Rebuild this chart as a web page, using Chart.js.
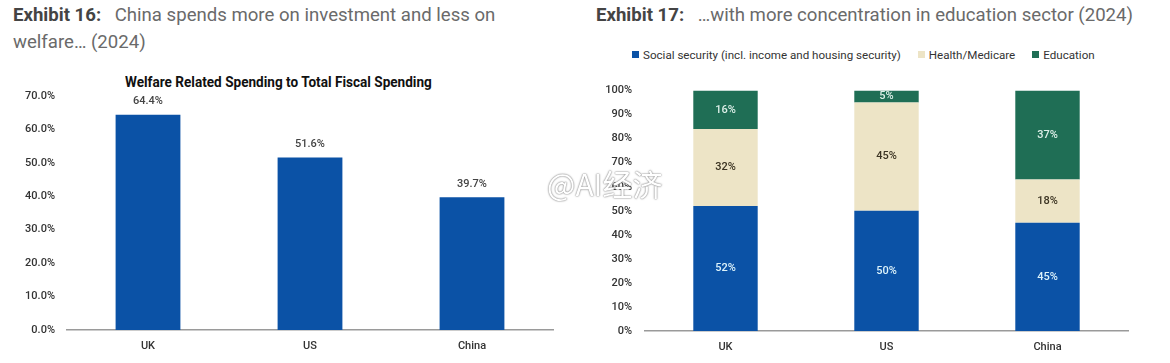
<!DOCTYPE html>
<html>
<head>
<meta charset="utf-8">
<script src="https://cdn.jsdelivr.net/npm/chart.js@4.4.1/dist/chart.umd.min.js"></script>
<style>
  body { margin: 0; width: 1170px; height: 363px; background: #fff; position: relative; overflow: hidden; font-family: Roboto, sans-serif; }
  .head { position: absolute; font-size: 18.6px; line-height: 27px; color: #6a6a6a; }
  .head b { color: #444; font-weight: 700; margin-right: 9px; }
  #title1 { position: absolute; left: 125px; top: 74px; font-size: 14px; font-weight: 700; color: #111; transform: scaleX(0.97); transform-origin: left top; white-space: nowrap; }
  #legend2 { position: absolute; left: 632px; top: 48px; font-size: 11.6px; color: #333; white-space: nowrap; }
  #legend2 span.item { margin-right: 17px; }
  #legend2 i { display: inline-block; width: 7px; height: 7px; margin-right: 4px; vertical-align: 1px; }
  canvas { position: absolute; }
  #wm { position: absolute; left: 547px; top: 161px; font-family: "Noto Sans CJK SC", sans-serif; font-size: 30px; color: #fff; text-shadow: 0 0 2px #777, 0 0 1px #999; }
</style>
</head>
<body>
<div class="head" style="left:13px; top:2px; width:520px;"><b>Exhibit 16:</b> China spends more on investment and less on welfare… (2024)</div>
<div class="head" style="left:596px; top:2px;"><b>Exhibit 17:</b> …with more concentration in education sector (2024)</div>
<div id="title1">Welfare Related Spending to Total Fiscal Spending</div>
<div id="legend2"></div>
<canvas id="welfare" width="580" height="303" style="left:0; top:60px;"></canvas>
<canvas id="sector" width="580" height="292" style="left:590px; top:71px;"></canvas>
<div id="wm">@AI经济</div>
<script>
var countries = ['UK', 'US', 'China'];
var welfareShare = [64.4, 51.6, 39.7];
var welfareTicks = [0, 10, 20, 30, 40, 50, 60, 70];

var sectorNames = ['Social security (incl. income and housing security)', 'Health/Medicare', 'Education'];
var socialSecurity = [52, 50, 45];
var health = [32, 45, 18];
var education = [16, 5, 37];
var sectorColors = ['#0b52a6', '#ede4c6', '#1f6e55'];
var sectorLabelColors = ['#dcf2fa', '#3b3322', '#dcefe8'];

var tickFont = { family: 'Roboto', size: 11, weight: '500' };

// value labels drawn on top of / inside the bars
var barLabels = {
    id: 'barLabels',
    afterDatasetsDraw: function (chart, args, opts) {
        var ctx = chart.ctx;
        ctx.save();
        ctx.font = '500 11px Roboto';
        ctx.textAlign = 'center';
        ctx.textBaseline = 'middle';
        chart.data.datasets.forEach(function (ds, i) {
            chart.getDatasetMeta(i).data.forEach(function (bar, j) {
                var v = ds.data[j];
                var y;
                if (opts.inside) {
                    y = (bar.y + bar.base) / 2;
                    ctx.fillStyle = ds.labelColor;
                } else {
                    y = bar.y - 13;
                    ctx.fillStyle = '#444';
                }
                ctx.fillText(opts.format(v), bar.x, y);
            });
        });
        ctx.restore();
    }
};

new Chart(document.getElementById('welfare').getContext('2d'), {
    type: 'bar',
    data: {
        labels: countries,
        datasets: [{
            data: welfareShare,
            backgroundColor: '#0b52a6',
            categoryPercentage: 1,
            barPercentage: 0.4
        }]
    },
    plugins: [barLabels],
    options: {
        responsive: false,
        animation: false,
        layout: { padding: { top: 36, right: 27, left: 0, bottom: 0 } },
        plugins: {
            legend: { display: false },
            tooltip: { enabled: false },
            barLabels: { format: function (v) { return v.toFixed(1) + '%'; } }
        },
        scales: {
            x: {
                grid: { display: false, drawTicks: false },
                border: { color: '#9a9a9a', width: 1.5 },
                ticks: { color: '#333', font: tickFont, padding: 10 },
                afterFit: function (s) { s.height = 33; }
            },
            y: {
                min: 0, max: 70,
                grid: { display: false, drawTicks: false },
                border: { display: false },
                afterBuildTicks: function (s) { s.ticks = welfareTicks.map(function (v) { return { value: v }; }); },
                ticks: { color: '#333', font: tickFont, padding: 12, callback: function (v) { return v.toFixed(1) + '%'; } },
                afterFit: function (s) { s.width = 67; }
            }
        }
    }
});

var sectorData = [socialSecurity, health, education];
new Chart(document.getElementById('sector').getContext('2d'), {
    type: 'bar',
    data: {
        labels: countries,
        datasets: sectorData.map(function (d, i) {
            return {
                label: sectorNames[i],
                data: d,
                backgroundColor: sectorColors[i],
                labelColor: sectorLabelColors[i],
                categoryPercentage: 1,
                barPercentage: 0.4
            };
        })
    },
    plugins: [barLabels],
    options: {
        responsive: false,
        animation: false,
        layout: { padding: { top: 10, right: 42, left: 0, bottom: 0 } },
        plugins: {
            legend: { display: false },
            tooltip: { enabled: false },
            barLabels: { inside: true, format: function (v) { return v + '%'; } }
        },
        scales: {
            x: {
                stacked: true,
                grid: { display: false, drawTicks: false },
                border: { color: '#9a9a9a', width: 1.5 },
                ticks: { color: '#333', font: tickFont, padding: 10 },
                afterFit: function (s) { s.height = 32; }
            },
            y: {
                stacked: true,
                min: 0, max: 100,
                grid: { display: false, drawTicks: false },
                border: { display: false },
                ticks: { stepSize: 10, color: '#333', font: tickFont, padding: 13, callback: function (v) { return v + '%'; } },
                afterFit: function (s) { s.width = 55; }
            }
        }
    }
});

var leg = document.getElementById('legend2');
sectorNames.forEach(function (n, i) {
    var s = document.createElement('span');
    s.className = 'item';
    s.innerHTML = '<i style="background:' + sectorColors[i] + '"></i>' + n;
    leg.appendChild(s);
});
</script>
</body>
</html>
